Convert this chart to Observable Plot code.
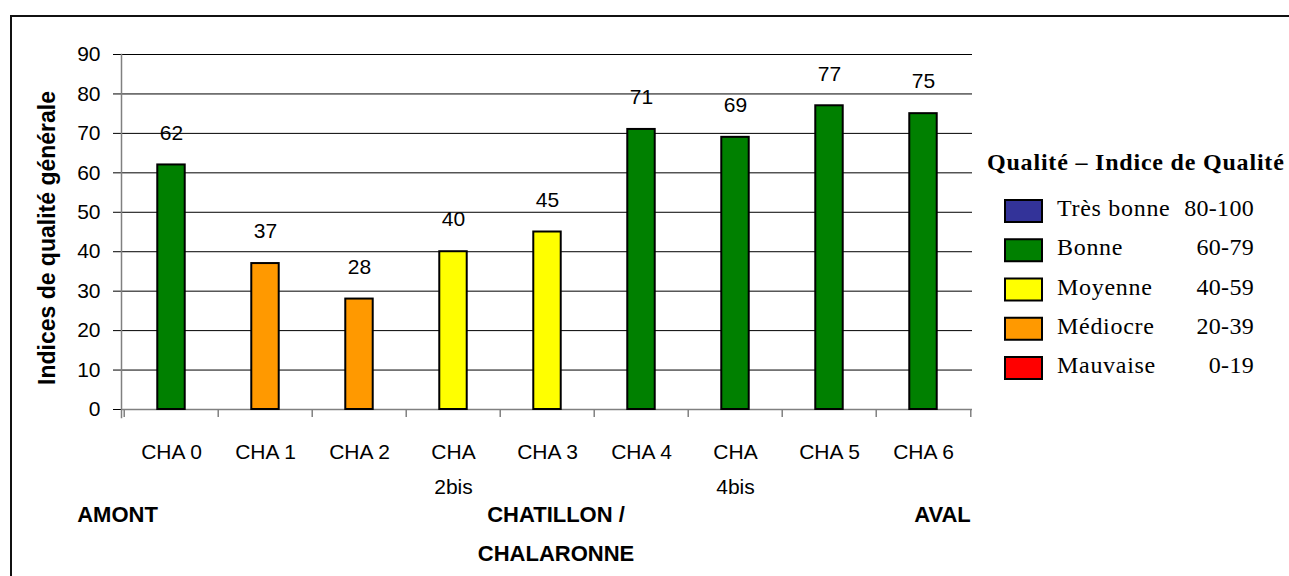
<!DOCTYPE html>
<html>
<head>
<meta charset="utf-8">
<script src="https://cdn.jsdelivr.net/npm/d3@7"></script>
<script src="https://cdn.jsdelivr.net/npm/@observablehq/plot@0.6"></script>
<style>
  html, body { margin: 0; padding: 0; background: #fff; overflow: hidden; }
  #wrap { position: relative; width: 1289px; height: 576px; overflow: hidden; }
  #frame { position: absolute; left: 10px; top: 15px; width: 1400px; height: 700px; border: 2px solid #111; }
  #chart { position: absolute; left: 0; top: 0; }
  #legend { position: absolute; left: 0; top: 0; }
</style>
</head>
<body>
<div id="wrap">
  <div id="frame"></div>
  <div id="chart"></div>
  <svg id="legend" width="1289" height="576"></svg>
</div>
<script>
// Sampling stations along the river, upstream to downstream
const stations = ["CHA 0", "CHA 1", "CHA 2", "CHA 2bis", "CHA 3", "CHA 4", "CHA 4bis", "CHA 5", "CHA 6"];
const stationLabels = ["CHA 0", "CHA 1", "CHA 2", "CHA\n2bis", "CHA 3", "CHA 4", "CHA\n4bis", "CHA 5", "CHA 6"];
// General quality index per station
const indices = [62, 37, 28, 40, 45, 71, 69, 77, 75];
const yTicks = [0, 10, 20, 30, 40, 50, 60, 70, 80, 90];
const yTitle = "Indices de qualité générale";

// Quality classes (best to worst)
const legendTitle = "Qualité – Indice de Qualité";
const classNames = ["Très bonne", "Bonne", "Moyenne", "Médiocre", "Mauvaise"];
const classRanges = ["80-100", "60-79", "40-59", "20-39", "0-19"];
const classColors = ["#333399", "#008000", "#FFFF00", "#FF9900", "#FF0000"];
const classThresholds = [20, 40, 60, 80];

// Reach annotations under the axis
const reachNames = ["AMONT", "CHATILLON /\nCHALARONNE", "AVAL"];
const reachStations = ["CHA 0", "CHA 3", "CHA 6"];

const data = stations.map((s, i) => ({station: s, label: stationLabels[i], value: indices[i]}));

const W = 1289, H = 576;
const mL = 121, mR = 317, mT = 54, mB = 167;
const step = (W - mL - mR) / stations.length;
const barInset = (step - 28) / 2;

const sansFont = "'Comic Sans MS', 'Liberation Sans', Arial, sans-serif";

const chart = Plot.plot({
  width: W,
  height: H,
  marginLeft: mL,
  marginRight: mR,
  marginTop: mT,
  marginBottom: mB,
  style: {fontFamily: sansFont, fontSize: "21px", color: "#000", background: "none", overflow: "visible"},
  x: {domain: stations, padding: 0, axis: null},
  y: {domain: [0, 90]},
  color: {type: "threshold", domain: classThresholds, range: [...classColors].reverse()},
  marks: [
    // horizontal gridlines, extended left as tick marks
    Plot.ruleY(yTicks, {stroke: "#000", strokeWidth: 1, insetLeft: -8}),
    // y tick labels
    Plot.axisY(yTicks, {tickSize: 0, tickPadding: 21, fontSize: 21, label: null}),
    // y axis line
    Plot.frame({anchor: "left", stroke: "#808080", strokeWidth: 1.5, insetBottom: -8}),
    // x axis line and category boundary ticks
    Plot.ruleY([0], {stroke: "#808080", strokeWidth: 1.5}),
    Plot.ruleX(stations, {x: d => d, y1: 0, y2: 0, insetBottom: -8, dx: -step / 2, stroke: "#808080", strokeWidth: 1.5}),
    Plot.ruleX(stations.slice(-1), {x: d => d, y1: 0, y2: 0, insetBottom: -8, dx: step / 2, stroke: "#808080", strokeWidth: 1.5}),
    // bars coloured by quality class
    Plot.barY(data, {x: "station", y: "value", fill: "value", stroke: "#000", strokeWidth: 2,
      insetLeft: barInset, insetRight: barInset}),
    // value labels
    Plot.text(data, {x: "station", y: "value", text: d => String(d.value), dy: -32,
      lineAnchor: "middle", fontSize: 21, fill: "#000"}),
    // station labels
    Plot.text(data, {x: "station", y: 0, text: "label", lineAnchor: "top", lineHeight: 1.667,
      dy: 25, fontSize: 21, fill: "#000"}),
    // reach annotations
    Plot.text([reachNames[0]], {x: () => reachStations[0], y: () => 0, text: d => d, lineAnchor: "top",
      lineHeight: 1.75, dy: 85.4, dx: -54, fontSize: 22, fontWeight: "bold", fill: "#000"}),
    Plot.text([reachNames[1]], {x: () => reachStations[1], y: () => 0, text: d => d, lineAnchor: "top",
      lineHeight: 1.75, dy: 85.4, dx: 8.5, fontSize: 22, fontWeight: "bold", fill: "#000"}),
    Plot.text([reachNames[2]], {x: () => reachStations[2], y: () => 0, text: d => d, lineAnchor: "top",
      lineHeight: 1.75, dy: 85.4, dx: 19, fontSize: 22, fontWeight: "bold", fill: "#000"}),
    // y axis title
    Plot.text([yTitle], {frameAnchor: "left", text: d => d, rotate: -90, textAnchor: "middle",
      lineAnchor: "bottom", dx: -67, dy: 6, fontSize: 23, fontWeight: "bold", fill: "#000"})
  ]
});
document.getElementById("chart").appendChild(chart);

// Quality class legend
const serif = "'Garamond', 'Liberation Serif', 'Times New Roman', serif";
const lg = d3.select("#legend");
lg.append("text")
  .attr("x", 987).attr("y", 170)
  .attr("font-family", serif).attr("font-size", 24).attr("font-weight", "bold")
  .attr("letter-spacing", 0.8)
  .text(legendTitle);

const rowY = i => 211 + i * 39.25;
const rows = lg.selectAll("g.row").data(classNames).join("g").attr("class", "row");
rows.append("rect")
  .attr("x", 1005).attr("y", (d, i) => rowY(i) - 11)
  .attr("width", 37).attr("height", 22)
  .attr("fill", (d, i) => classColors[i]).attr("stroke", "#000").attr("stroke-width", 2);
rows.append("text")
  .attr("x", 1057).attr("y", (d, i) => rowY(i) + 5)
  .attr("font-family", serif).attr("font-size", 24).attr("letter-spacing", 0.7)
  .text(d => d);
rows.append("text")
  .attr("x", 1254).attr("y", (d, i) => rowY(i) + 5)
  .attr("text-anchor", "end")
  .attr("font-family", serif).attr("font-size", 24).attr("letter-spacing", 0.3)
  .text((d, i) => classRanges[i]);
</script>
</body>
</html>
